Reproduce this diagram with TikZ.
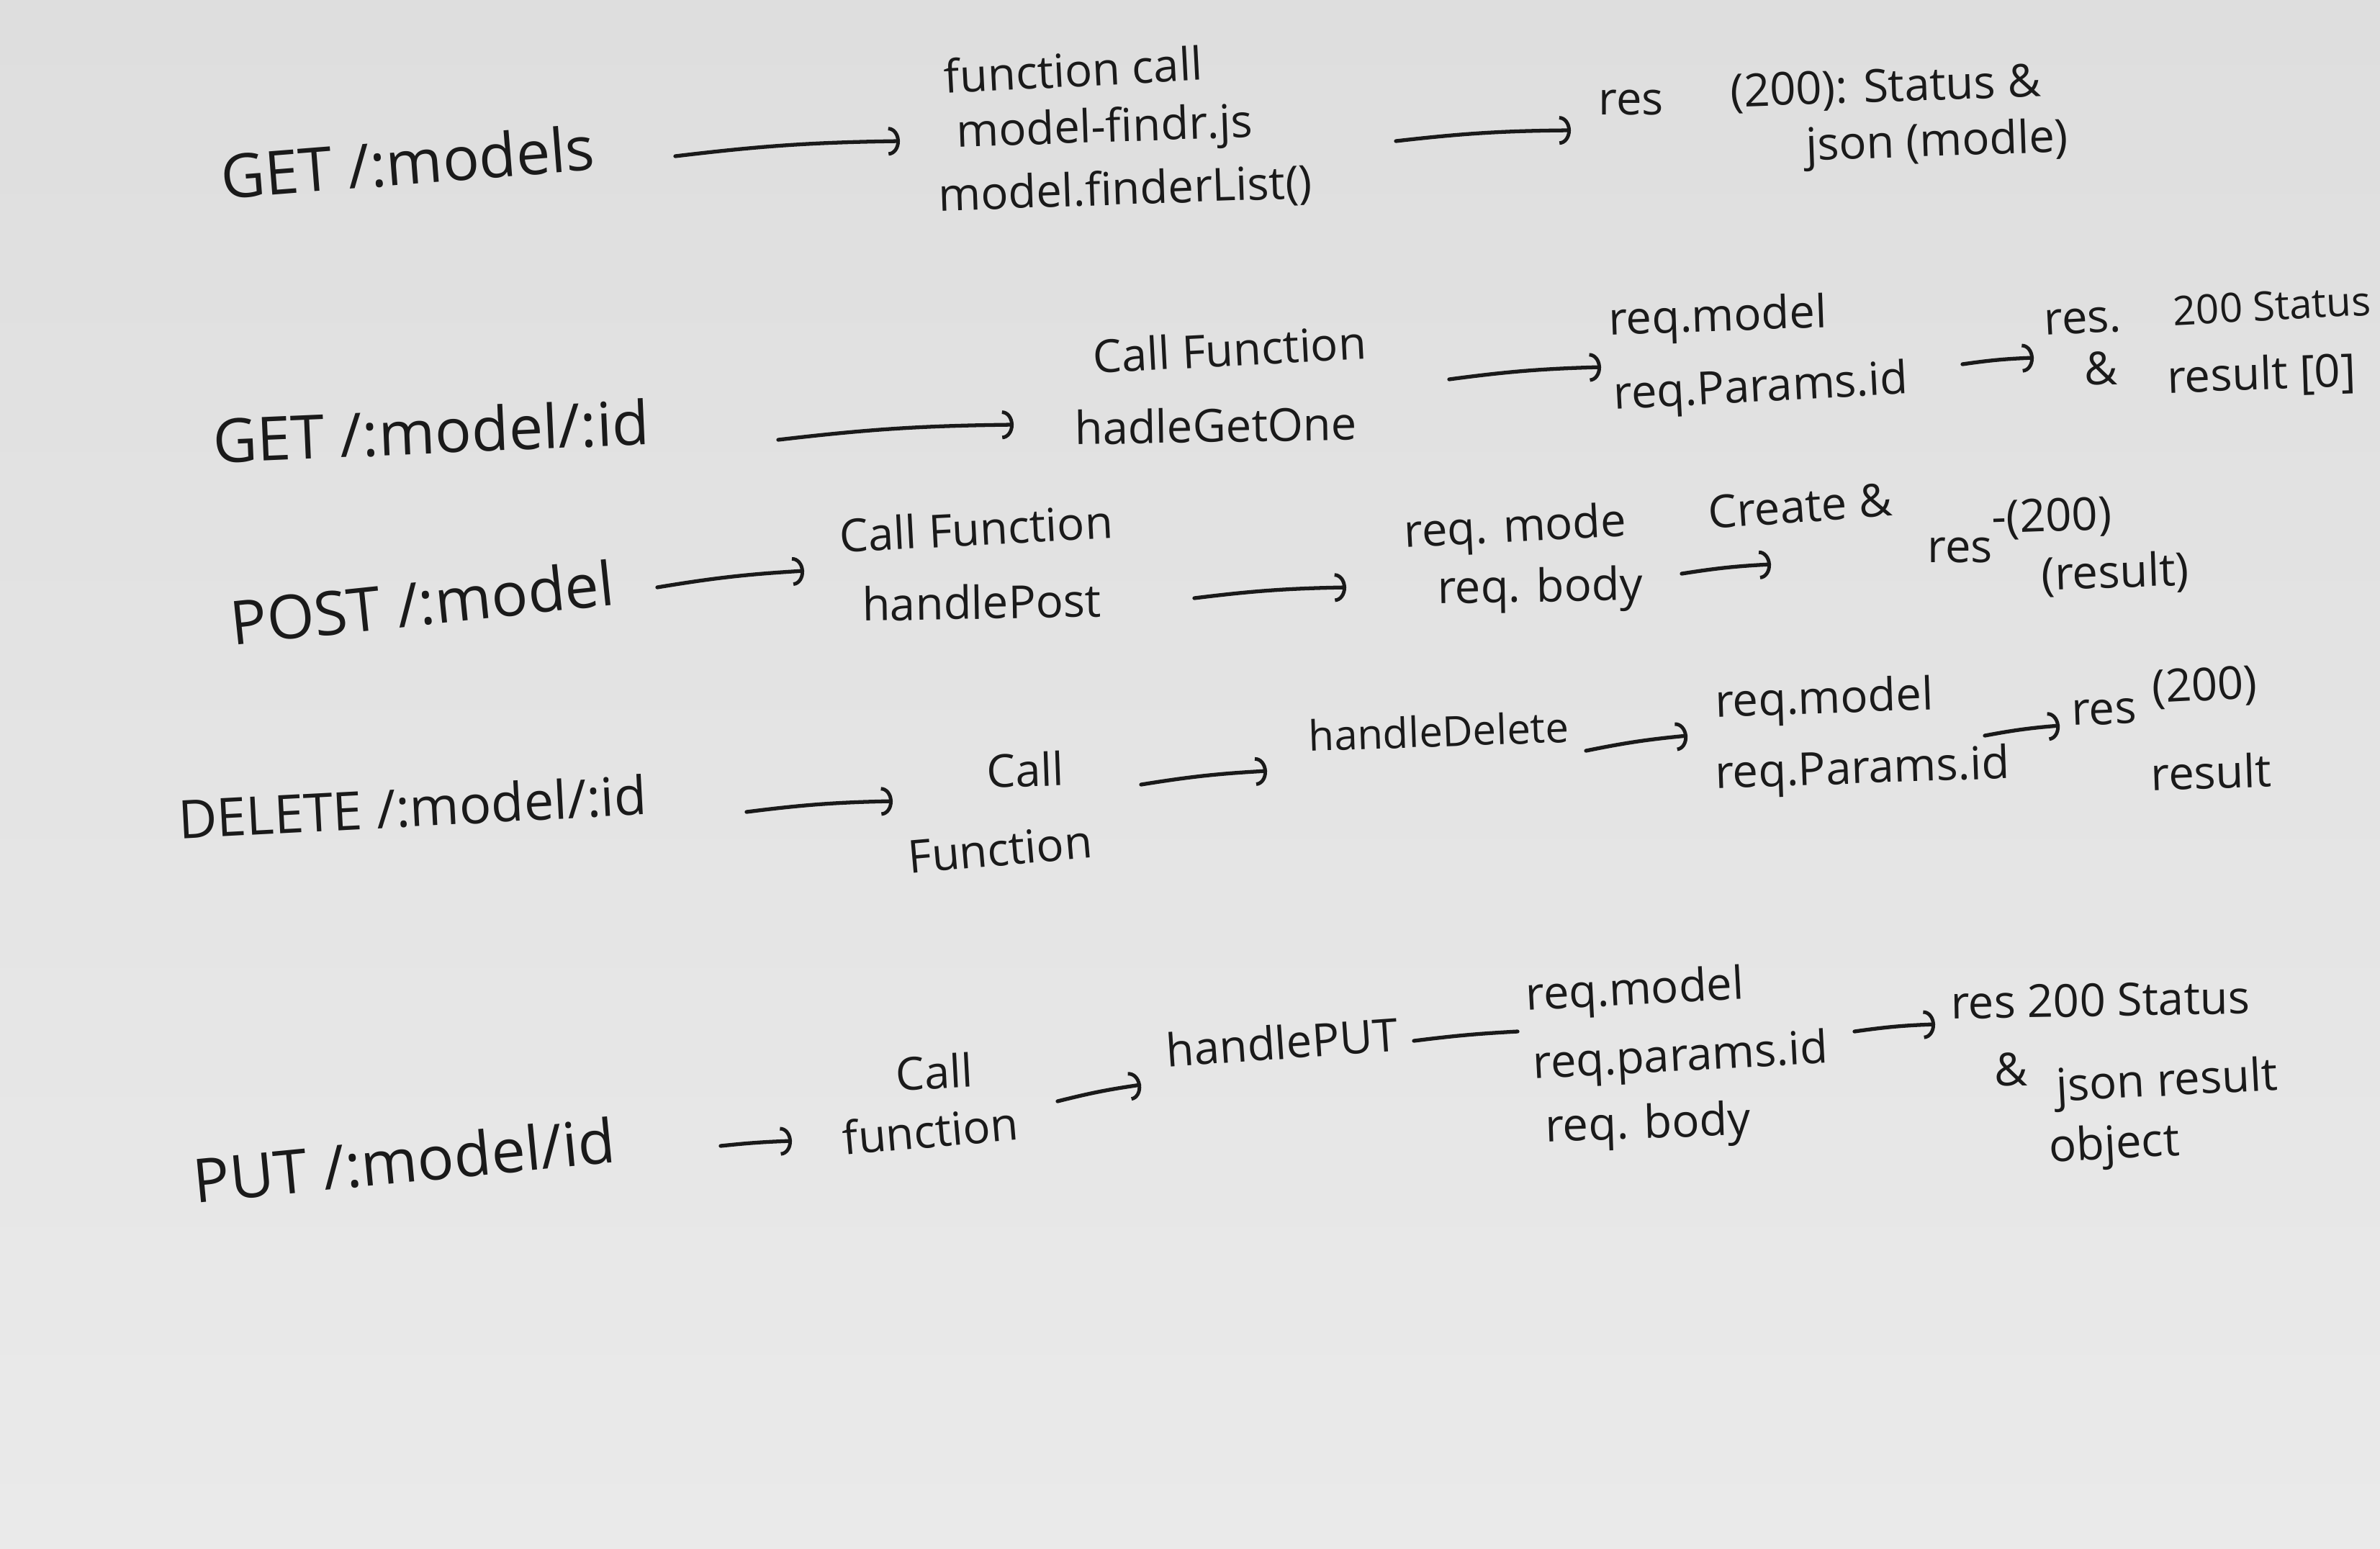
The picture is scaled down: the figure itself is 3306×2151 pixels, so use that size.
\documentclass[tikz,border=0pt]{standalone}
\usepackage{fontspec}
\setmainfont{Open Sans}
\usetikzlibrary{arrows.meta}
\definecolor{ink}{HTML}{1A1A1A}
\definecolor{papertop}{HTML}{DEDEDE}
\definecolor{paperbot}{HTML}{EAEAEA}
\tikzset{
  hdr/.style={anchor=west, inner sep=0pt, text=ink, font=\fontsize{24}{28}\selectfont},
  txt/.style={anchor=west, inner sep=0pt, text=ink, font=\fontsize{18}{22}\selectfont},
  arr/.style={draw=ink, line width=1.5pt, line cap=round, -{Arc Barb[length=1.6mm,width=4mm,line width=1.4pt]}},
  plainln/.style={draw=ink, line width=1.5pt, line cap=round}
}
\begin{document}
\begin{tikzpicture}[x=0.01cm, y=-0.01cm]
\useasboundingbox (0,0) rectangle (3306,2151);
\clip (0,0) rectangle (3306,2151);
\shade[top color=papertop, bottom color=paperbot] (0,0) rectangle (3306,2151);

% ---------- Row 1 ----------
\node[hdr, rotate=4.5] (A1) at (306,245) {GET /:models};
\node[txt, rotate=3] (B1a) at (1311,106) {function call};
\node[txt, rotate=2] (B1b) at (1328,188) {model-findr.js};
\node[txt, rotate=2] (B1c) at (1303,274) {model.finderList()};
\node[txt] (C1a) at (2220,143) {res};
\node[txt, rotate=2] (C1b) at (2403,131) {(200): Status \&};
\node[txt, rotate=2] (C1c) at (2508,207) {json (modle)};
\draw[arr] ([shift={(632,-28)}]A1.west) to[bend left=3] ([shift={(-78,8)}]B1b.west);
\draw[arr] ([shift={(611,8)}]B1b.west) to[bend left=3] ([shift={(-38,38)}]C1a.west);

% ---------- Row 2 ----------
\node[hdr, rotate=2.5] (A2) at (295,612) {GET /:model/:id};
\node[txt, rotate=3] (B2a) at (1518,495) {Call Function};
\node[txt, rotate=1] (B2b) at (1492,594) {hadleGetOne};
\node[txt, rotate=2] (C2a) at (2234,449) {req.model};
\node[txt, rotate=3] (C2b) at (2241,552) {req.Params.id};
\node[txt, rotate=3] (D2a) at (2839,449) {res.};
\node[txt, rotate=3, font=\fontsize{16}{20}\selectfont] (D2b) at (3018,432) {200 Status};
\node[txt] (D2c) at (2895,512) {\&};
\node[txt, rotate=2] (D2d) at (3010,527) {result [0]};
\draw[arr] ([shift={(786,-1)}]A2.west) to[bend left=3] ([shift={(-84,-4)}]B2b.west);
\draw[arr] ([shift={(521,-67)}]B2b.west) to[bend left=3] ([shift={(-17,-42)}]C2b.west);
\draw[arr] ([shift={(485,-46)}]C2b.west) to[bend left=3] ([shift={(-70,-15)}]D2c.west);

% ---------- Row 3 ----------
\node[hdr, rotate=6] (A3) at (320,865) {POST /:model};
\node[txt, rotate=3] (B3a) at (1166,744) {Call Function};
\node[txt, rotate=1] (B3b) at (1197,839) {handlePost};
\node[txt, rotate=3] (C3a) at (1950,744) {req. mode};
\node[txt, rotate=1] (C3b) at (1996,822) {req. body};
\node[txt, rotate=4] (C3c) at (2372,712) {Create \&};
\node[txt] (D3a) at (2677,765) {res};
\node[txt, rotate=2] (D3b) at (2766,723) {-(200)};
\node[txt, rotate=2] (D3c) at (2835,801) {(result)};
\draw[arr] ([shift={(593,-49)}]A3.west) to[bend left=3] ([shift={(-80,-46)}]B3b.west);
\draw[arr] ([shift={(462,-8)}]B3b.west) to[bend left=3] ([shift={(-126,-6)}]C3b.west);
\draw[arr] ([shift={(340,-25)}]C3b.west) to[bend left=3] ([shift={(-217,19)}]D3a.west);

% ---------- Row 4 ----------
\node[hdr, rotate=3, font=\fontsize{21}{25}\selectfont] (A4) at (247,1138) {DELETE /:model/:id};
\node[txt, rotate=2] (B4a) at (1370,1071) {Call};
\node[txt, rotate=5] (B4b) at (1261,1191) {Function};
\node[txt, rotate=2, font=\fontsize{16.5}{20}\selectfont] (B4c) at (1817,1022) {handleDelete};
\node[txt, rotate=2] (C4a) at (2382,980) {req.model};
\node[txt, rotate=2] (C4b) at (2382,1079) {req.Params.id};
\node[txt, rotate=2] (D4a) at (2877,991) {res};
\node[txt, rotate=3] (D4b) at (2989,959) {(200)};
\node[txt, rotate=2] (D4c) at (2987,1075) {result};
\draw[arr] ([shift={(790,-10)}]A4.west) to[bend left=3] ([shift={(-130,42)}]B4a.west);
\draw[arr] ([shift={(215,19)}]B4a.west) to[bend left=3] ([shift={(-57,49)}]B4c.west);
\draw[arr] ([shift={(386,21)}]B4c.west) to[bend left=3] ([shift={(-38,-57)}]C4b.west);
\draw[arr] ([shift={(375,-57)}]C4b.west) to[bend left=3] ([shift={(-16,17)}]D4a.west);

% ---------- Row 5 ----------
\node[hdr, rotate=5.5] (A5) at (268,1640) {PUT /:model/id};
\node[txt, rotate=3] (B5a) at (1244,1492) {Call};
\node[txt, rotate=5] (B5b) at (1170,1581) {function};
\node[txt, rotate=4] (B5c) at (1619,1459) {handlePUT};
\node[txt, rotate=3] (C5a) at (2119,1387) {req.model};
\node[txt, rotate=3] (C5b) at (2129,1482) {req.params.id};
\node[txt, rotate=2] (C5c) at (2146,1570) {req. body};
\node[txt, rotate=1] (D5a) at (2709,1393) {res 200 Status};
\node[txt] (D5b) at (2770,1486) {\&};
\node[txt, rotate=3] (D5c) at (2856,1514) {json result};
\node[txt, rotate=3] (D5d) at (2846,1598) {object};
\draw[arr] ([shift={(733,-48)}]A5.west) to[bend left=2] ([shift={(-70,4)}]B5b.west);
\draw[arr] ([shift={(299,-51)}]B5b.west) to[bend left=3] ([shift={(-34,48)}]B5c.west);
\draw[plainln] ([shift={(345,-13)}]B5c.west) to[bend left=2] ([shift={(-11,46)}]C5a.west);
\draw[arr] ([shift={(447,-49)}]C5b.west) to[bend left=3] ([shift={(-21,30)}]D5a.west);
\end{tikzpicture}
\end{document}
